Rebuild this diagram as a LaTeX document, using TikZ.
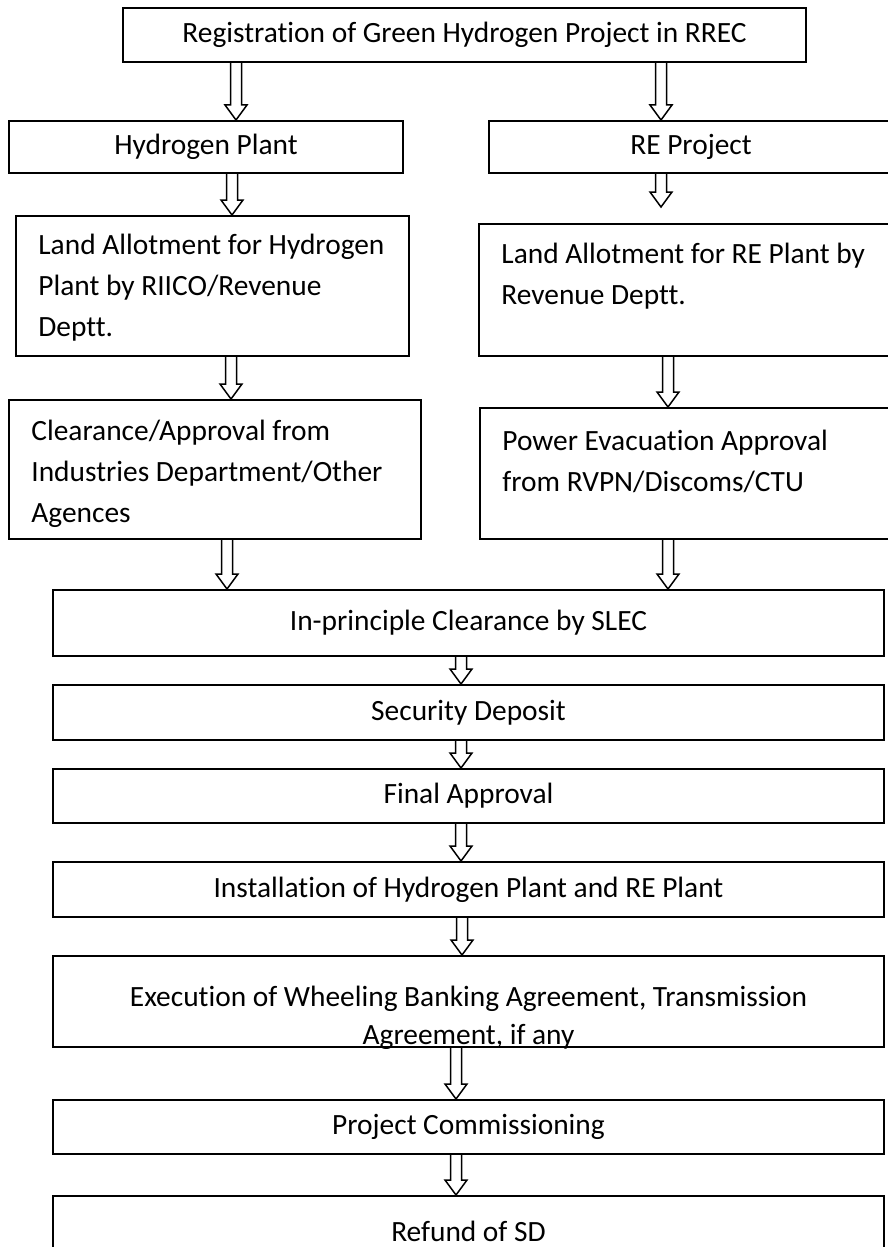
\documentclass[tikz,border=0pt]{standalone}
\usepackage{fontspec}
\setmainfont{Carlito}[Ligatures={NoCommon,NoContextual}]
\usepackage{tikz}
\usetikzlibrary{calc, positioning}
\newcommand{\boxfont}{\fontsize{14.7pt}{20.5pt}\selectfont}
% hollow block arrow from a start point down to its tip
\newcommand{\hollowarrow}[2]{%
  \draw[arrowline] let \p1=#1, \p2=#2 in
    (\x1-2.75pt,\y1) -- (\x1-2.75pt,\y2+7.5pt) -- (\x1-5.5pt,\y2+7.5pt) -- (\x1,\y2)
    -- (\x1+5.5pt,\y2+7.5pt) -- (\x1+2.75pt,\y2+7.5pt) -- (\x1+2.75pt,\y1);}
\begin{document}
\begin{tikzpicture}[
    x=0.5pt, y=-0.5pt,
    stage/.style={draw, line width=1pt, rectangle, inner sep=0pt, font=\boxfont},
    wide/.style={stage, minimum width=415.5pt},
    para/.style={inner sep=0pt, align=left, anchor=north west, font=\boxfont},
    arrowline/.style={line width=0.75pt, line join=miter}
]
    \useasboundingbox (0,0) rectangle (888,1247);

    % Top and the two branches
    \node[stage, minimum width=341.5pt, minimum height=27pt] (reg) at (464.5,35) {Registration of Green Hydrogen Project in RREC};
    \node[stage, minimum width=197pt, minimum height=26pt] (hp) at (206,147) {Hydrogen Plant};
    \node[stage, minimum width=202pt, minimum height=26pt] (rep) at (691,147) {RE Project};

    \node[stage, minimum width=196.5pt, minimum height=70pt] (lhp) at (212.5,286) {};
    \node[para] (lhptext) at (38,225.3) {\strut Land Allotment for Hydrogen\\\strut Plant by RIICO/Revenue\\\strut Deptt.};
    \node[stage, minimum width=210.5pt, minimum height=66pt] (lre) at (689.5,290) {};
    \node[para] (lretext) at (501,234.3) {\strut Land Allotment for RE Plant by\\\strut Revenue Deptt.};

    \node[stage, minimum width=206pt, minimum height=69.5pt] (clr) at (215,469.5) {};
    \node[para] (clrtext) at (31,411.3) {\strut Clearance/Approval from\\\strut Industries Department/Other\\\strut Agences};
    \node[stage, minimum width=210pt, minimum height=65.5pt] (pwr) at (690,473.5) {};
    \node[para] (pwrtext) at (502,421.3) {\strut Power Evacuation Approval\\\strut from RVPN/Discoms/CTU};

    % Common stages
    \node[wide, minimum height=33pt] (ipc) at (468.5,623) {In-principle Clearance by SLEC};
    \node[wide, minimum height=27.5pt] (sd) at (468.5,712.5) {Security Deposit};
    \node[wide, minimum height=27pt] (fa) at (468.5,796) {Final Approval};
    \node[wide, minimum height=27.5pt] (inst) at (468.5,889.5) {Installation of Hydrogen Plant and RE Plant};
    \node[wide, minimum height=45.5pt] (exe) at (468.5,1001.5) {};
    \begin{scope}
        \clip (exe.south west) rectangle (exe.north east);
        \node[para, align=center, anchor=north] (exetext) at (468.5,977.3) {\strut Execution of Wheeling Banking Agreement, Transmission\\[-1.5pt]\strut Agreement, if any};
    \end{scope}
    \node[wide, minimum height=27pt] (pc) at (468.5,1127) {Project Commissioning};
    \node[wide, minimum height=35pt] (ref) at (468.5,1231) {Refund of SD};

    % Arrows
    \hollowarrow{(reg.south -| 236,0)}{(hp.north -| 236,0)}
    \hollowarrow{(reg.south -| 661,0)}{(rep.north -| 661,0)}
    \hollowarrow{(hp.south -| 232,0)}{(lhp.north -| 232,0)}
    \hollowarrow{(rep.south -| 661,0)}{($(lre.north -| 661,0)+(0,-16)$)}
    \hollowarrow{(lhp.south -| 231,0)}{(clr.north -| 231,0)}
    \hollowarrow{(lre.south -| 668,0)}{(pwr.north -| 668,0)}
    \hollowarrow{(clr.south -| 227,0)}{(ipc.north -| 227,0)}
    \hollowarrow{(pwr.south -| 668,0)}{(ipc.north -| 668,0)}
    \hollowarrow{(ipc.south -| 461,0)}{(sd.north -| 461,0)}
    \hollowarrow{(sd.south -| 461,0)}{(fa.north -| 461,0)}
    \hollowarrow{(fa.south -| 461,0)}{(inst.north -| 461,0)}
    \hollowarrow{(inst.south -| 462,0)}{(exe.north -| 462,0)}
    \hollowarrow{(exe.south -| 456,0)}{(pc.north -| 456,0)}
    \hollowarrow{(pc.south -| 456,0)}{(ref.north -| 456,0)}
\end{tikzpicture}
\end{document}
